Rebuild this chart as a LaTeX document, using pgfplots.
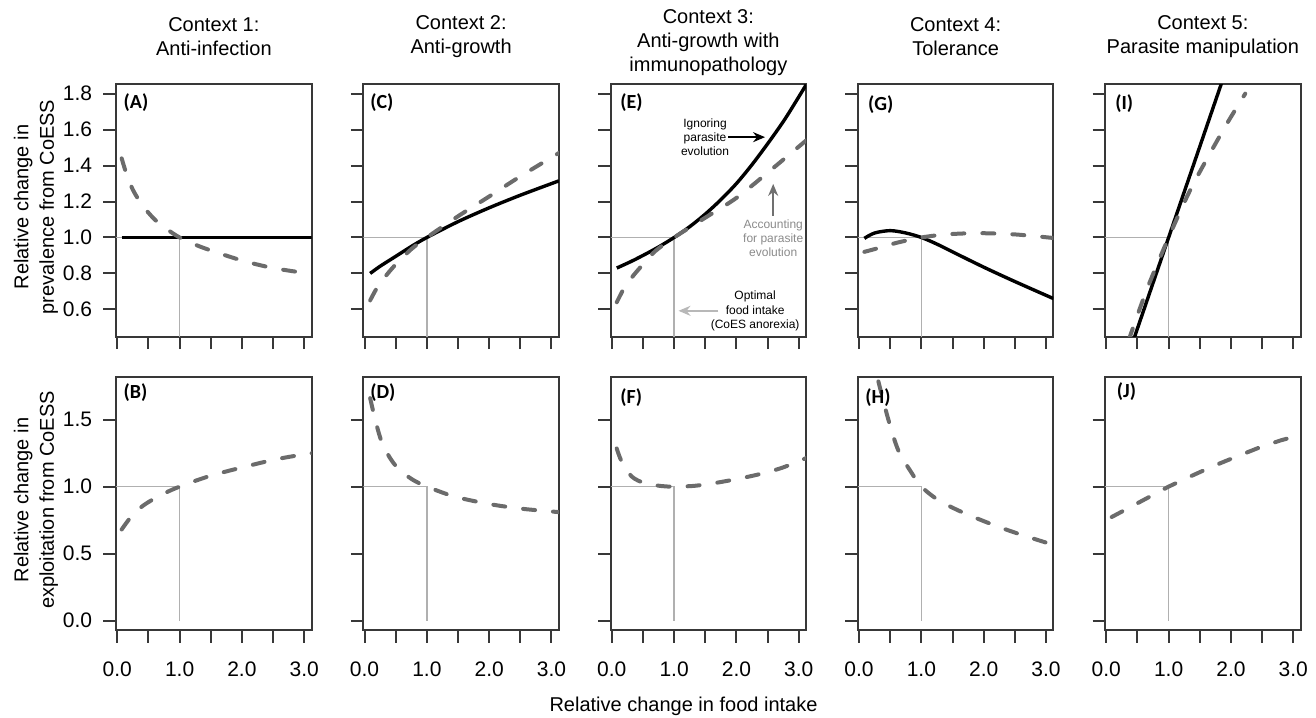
\documentclass[border=0pt]{standalone}
\usepackage{fontspec}
\setmainfont{Liberation Sans}
\newfontfamily\carlito{Carlito}
\usepackage{pgfplots}
\pgfplotsset{compat=1.18}
\usetikzlibrary{arrows.meta}

\definecolor{framec}{HTML}{383838}
\definecolor{dashcol}{HTML}{6B6B6B}
\definecolor{refc}{HTML}{B0B0B0}
\definecolor{acctext}{HTML}{8A8A8A}
\definecolor{accarrow}{HTML}{707070}
\definecolor{optarrow}{HTML}{B8B8B8}

\pgfplotsset{
  panel/.style={
    scale only axis, width=97.85pt,
    xmin=-0.021, xmax=3.12,
    axis line style={framec, line width=1pt},
    every tick/.style={framec, line width=1pt},
    major tick length=6.25pt,
    tick align=outside, tick pos=left,
    xtick={0,0.5,1,1.5,2,2.5,3},
    clip mode=individual,
    ticklabel style={font=\fontsize{10.5}{12}\selectfont},
    yticklabel style={anchor=east, inner sep=0pt, xshift=-5.5pt},
    xticklabel style={anchor=north, inner sep=0pt, yshift=-9.5pt},
    anchor=north west,
  },
  toprow/.style={panel, height=126.2pt, ymin=0.448, ymax=1.852,
    ytick={0.6,0.8,1.0,1.2,1.4,1.6,1.8}, xticklabels={,,,,,,,}},
  botrow/.style={panel, height=126.65pt, ymin=-0.07, ymax=1.82,
    ytick={0,0.5,1,1.5}, xticklabels={0.0,,1.0,,2.0,,3.0}},
  ylabtop/.style={yticklabels={0.6,0.8,1.0,1.2,1.4,1.6,1.8}},
  ylabbot/.style={yticklabels={0.0,0.5,1.0,1.5}},
  noylab/.style={yticklabels={,,,,,,,,}},
  dashline/.style={dashcol, line width=2pt, dash pattern=on 6pt off 9pt, line cap=round, smooth},
  solidline/.style={black, line width=1.7pt, smooth},
  refline/.style={refc, line width=0.75pt},
}
\newcommand{\plab}{\carlito\bfseries\fontsize{10}{12}\selectfont}

\begin{document}
\begin{tikzpicture}
\path[use as bounding box] (0pt,0pt) rectangle (658pt,-358.5pt);

% ---------------- Top row ----------------
% (A)
\begin{axis}[toprow, ylabtop, at={(58pt,-42.15pt)}]
\addplot[refline] coordinates {(-0.021,1)(1,1)(1,0.448)};
\addplot[solidline] coordinates {(0.07,1)(3.12,1)};
\addplot[dashline] coordinates {(0.07,1.44)(0.15,1.35)(0.25,1.265)(0.4,1.18)(0.6,1.10)(0.8,1.045)(1.0,1.0)(1.25,0.96)(1.5,0.928)(2.0,0.872)(2.5,0.83)(3.12,0.797)};
\node[anchor=west, inner sep=0pt, font=\plab] at (rel axis cs:0.037,0.928) {(A)};
\end{axis}
% (C)
\begin{axis}[toprow, noylab, at={(181.625pt,-42.15pt)}]
\addplot[refline] coordinates {(-0.021,1)(1,1)(1,0.448)};
\addplot[solidline] coordinates {(0.09,0.80)(0.25,0.84)(0.5,0.895)(0.75,0.95)(1,1.0)(1.5,1.088)(2,1.165)(2.5,1.235)(3.12,1.315)};
\addplot[dashline] coordinates {(0.09,0.65)(0.2,0.72)(0.35,0.79)(0.5,0.85)(0.75,0.935)(1,1.0)(1.5,1.118)(2,1.228)(2.5,1.34)(3.12,1.47)};
\node[anchor=west, inner sep=0pt, font=\plab] at (rel axis cs:0.034,0.928) {(C)};
\end{axis}
% (E)
\begin{axis}[toprow, noylab, at={(305.25pt,-42.15pt)}]
\addplot[refline] coordinates {(-0.021,1)(1,1)(1,0.448)};
\addplot[solidline] coordinates {(0.08,0.83)(0.3,0.865)(0.5,0.9)(0.75,0.947)(1,1.0)(1.25,1.06)(1.5,1.13)(1.75,1.21)(2,1.30)(2.25,1.405)(2.54,1.54)(2.8,1.67)(3.12,1.85)};
\addplot[dashline] coordinates {(0.08,0.64)(0.2,0.72)(0.35,0.79)(0.5,0.85)(0.7,0.925)(1,1.0)(1.5,1.11)(2,1.22)(2.5,1.36)(3.12,1.54)};
\node[anchor=west, inner sep=0pt, font=\plab] at (rel axis cs:0.049,0.928) {(E)};
\node[align=center, inner sep=0pt, font=\fontsize{6}{7.2}\selectfont] at (axis cs:1.496,1.558) {Ignoring\\parasite\\evolution};
\draw[black, line width=0.9pt, -{Stealth[length=6pt,width=5pt]}] (axis cs:1.87,1.558) -- (axis cs:2.46,1.558);
\node[align=center, inner sep=0pt, text=acctext, font=\fontsize{6}{7.2}\selectfont] at (axis cs:2.59,0.996) {Accounting\\for parasite\\evolution};
\draw[accarrow, line width=0.9pt, -{Stealth[length=6pt,width=5pt]}] (axis cs:2.59,1.12) -- (axis cs:2.59,1.298);
\node[align=center, inner sep=0pt, font=\fontsize{6}{7.2}\selectfont] at (axis cs:2.30,0.59) {Optimal\\food intake\\(CoES anorexia)};
\draw[optarrow, line width=0.9pt, -{Stealth[length=6pt,width=5pt]}] (axis cs:1.71,0.592) -- (axis cs:1.07,0.592);
\end{axis}
% (G)
\begin{axis}[toprow, noylab, at={(428.875pt,-42.15pt)}]
\addplot[refline] coordinates {(-0.021,1)(1,1)(1,0.448)};
\addplot[solidline] coordinates {(0.085,0.995)(0.25,1.025)(0.5,1.038)(0.75,1.025)(1,1.0)(1.25,0.963)(1.5,0.92)(2,0.835)(2.5,0.755)(3.12,0.66)};
\addplot[dashline] coordinates {(0.085,0.92)(0.3,0.94)(0.6,0.97)(1,1.0)(1.4,1.017)(1.9,1.024)(2.5,1.017)(3.12,0.997)};
\node[anchor=west, inner sep=0pt, font=\plab] at (rel axis cs:0.051,0.92) {(G)};
\end{axis}
% (I)
\begin{axis}[toprow, noylab, at={(552.5pt,-42.15pt)}]
\addplot[refline] coordinates {(-0.021,1)(1,1)(1,0.448)};
\addplot[black, line width=1.7pt] coordinates {(0.4,0.393)(1,1)(1.9,1.91)};
\addplot[dashline] coordinates {(0.36,0.43)(0.65,0.71)(1,1)(1.37,1.28)(1.88,1.6)(2.23,1.80)};
\node[anchor=west, inner sep=0pt, font=\plab] at (rel axis cs:0.051,0.924) {(I)};
\end{axis}

% ---------------- Bottom row ----------------
% (B)
\begin{axis}[botrow, ylabbot, at={(58pt,-188.35pt)}]
\addplot[refline] coordinates {(-0.021,1)(1,1)(1,0)};
\addplot[dashline] coordinates {(0.07,0.68)(0.23,0.78)(0.42,0.86)(0.69,0.935)(1,1)(1.49,1.08)(2.02,1.145)(2.56,1.205)(3.12,1.25)};
\node[anchor=west, inner sep=0pt, font=\plab] at (rel axis cs:0.037,0.938) {(B)};
\end{axis}
% (D)
\begin{axis}[botrow, noylab, at={(181.625pt,-188.35pt)}]
\addplot[refline] coordinates {(-0.021,1)(1,1)(1,0)};
\addplot[dashline] coordinates {(0.09,1.66)(0.17,1.50)(0.27,1.34)(0.4,1.22)(0.54,1.135)(0.76,1.055)(1,1.0)(1.45,0.925)(2,0.87)(2.52,0.835)(3.11,0.81)};
\node[anchor=west, inner sep=0pt, font=\plab] at (rel axis cs:0.034,0.936) {(D)};
\end{axis}
% (F)
\begin{axis}[botrow, noylab, at={(305.25pt,-188.35pt)}]
\addplot[refline] coordinates {(-0.021,1)(1,1)(1,0)};
\addplot[dashline] coordinates {(0.078,1.285)(0.16,1.185)(0.32,1.075)(0.53,1.025)(0.8,1.004)(1,1.0)(1.33,1.006)(1.76,1.035)(2.3,1.085)(2.73,1.14)(3.13,1.215)};
\node[anchor=west, inner sep=0pt, font=\plab] at (rel axis cs:0.049,0.918) {(F)};
\end{axis}
% (H)
\begin{axis}[botrow, noylab, at={(428.875pt,-188.35pt)}]
\addplot[refline] coordinates {(-0.021,1)(1,1)(1,0)};
\addplot[dashline] coordinates {(0.31,1.785)(0.47,1.50)(0.63,1.27)(0.84,1.105)(1,1.0)(1.27,0.90)(1.65,0.81)(2.18,0.71)(2.61,0.64)(3.12,0.565)};
\node[anchor=west, inner sep=0pt, font=\plab] at (rel axis cs:0.037,0.918) {(H)};
\end{axis}
% (J)
\begin{axis}[botrow, noylab, at={(552.5pt,-188.35pt)}]
\addplot[refline] coordinates {(-0.021,1)(1,1)(1,0)};
\addplot[dashcol, line width=2pt, dash pattern=on 6pt off 9pt, line cap=round] coordinates {(0.086,0.773)(1,1)(1.35,1.076)(1.69,1.148)(2.1,1.226)(2.49,1.2975)(2.8,1.345)(3.11,1.385)};
\node[anchor=west, inner sep=0pt, font=\plab] at (rel axis cs:0.059,0.942) {(J)};
\end{axis}

% ---------------- Titles and labels ----------------
\begin{scope}[x=0.5pt, y=-0.5pt]
\tikzset{ttl/.style={align=center, inner sep=0pt, font=\fontsize{10}{11.9}\selectfont}}
\node[ttl] at (213.85,36.7) {Context 1:\\Anti-infection};
\node[ttl] at (461.1,36.7) {Context 2:\\Anti-growth};
\node[ttl] at (708.35,42.7) {Context 3:\\Anti-growth with\\immunopathology};
\node[ttl] at (955.6,36.7) {Context 4:\\Tolerance};
\node[ttl] at (1202.85,36.7) {Context 5:\\Parasite manipulation};
\node[rotate=90, align=center, inner sep=0pt, font=\fontsize{10}{12.7}\selectfont] at (36,207) {Relative change in\\prevalence from CoESS};
\node[rotate=90, align=center, inner sep=0pt, font=\fontsize{10}{12.7}\selectfont] at (36,500) {Relative change in\\exploitation from CoESS};
\node[inner sep=0pt, font=\fontsize{10}{12}\selectfont] at (683.5,706.7) {Relative change in food intake};
\end{scope}
\end{tikzpicture}
\end{document}
